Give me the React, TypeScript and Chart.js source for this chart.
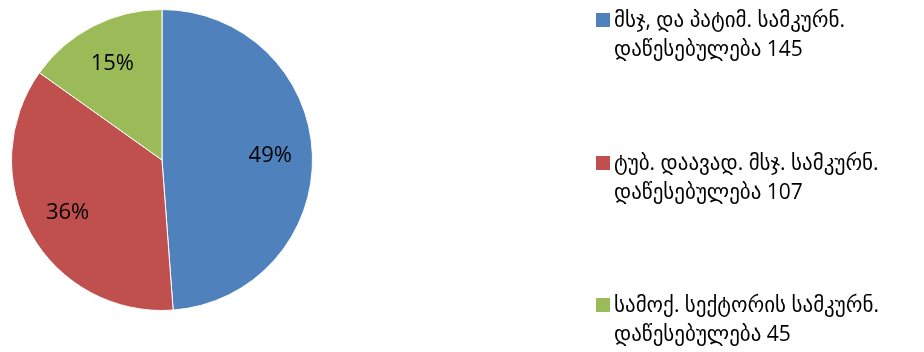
import React, { useEffect, useRef } from "react";
import { Chart, registerables } from "chart.js";

Chart.register(...registerables);

const categories: string[][] = [
  ["მსჯ, და პატიმ. სამკურნ.", "დაწესებულება 145"],
  ["ტუბ. დაავად. მსჯ. სამკურნ.", "დაწესებულება 107"],
  ["სამოქ. სექტორის სამკურნ.", "დაწესებულება 45"],
];
const values: number[] = [145, 107, 45];
const colors: string[] = ["#4F81BD", "#C0504D", "#9BBB59"];

const FONT = '"Open Sans", "DejaVu Sans", sans-serif';

const labelPlugin = {
  id: "customLabels",
  afterDatasetsDraw(chart: any) {
    const ctx = chart.ctx as CanvasRenderingContext2D;
    const meta = chart.getDatasetMeta(0);
    const data = chart.data.datasets[0].data as number[];
    const total = data.reduce((a, b) => a + b, 0);
    ctx.save();
    ctx.fillStyle = "#000";
    ctx.font = `22px ${FONT}`;
    ctx.textAlign = "center";
    ctx.textBaseline = "middle";
    meta.data.forEach((arc: any, i: number) => {
      const { x, y, startAngle, endAngle, outerRadius } = arc.getProps(
        ["x", "y", "startAngle", "endAngle", "outerRadius"],
        true
      );
      const mid = (startAngle + endAngle) / 2;
      const r = outerRadius * 0.72;
      const pct = Math.round((data[i] / total) * 100) + "%";
      ctx.fillText(pct, x + Math.cos(mid) * r, y + Math.sin(mid) * r);
    });
    // legend
    const lx = 596;
    const tops = [13, 156, 298];
    ctx.textAlign = "left";
    ctx.textBaseline = "middle";
    ctx.font = `21px ${FONT}`;
    categories.forEach((lines, i) => {
      const t = tops[i];
      ctx.fillStyle = colors[i];
      ctx.fillRect(lx, t, 14, 14);
      ctx.fillStyle = "#000";
      lines.forEach((ln, j) => {
        ctx.fillText(ln, lx + 18, t + 8 + j * 29);
      });
    });
    ctx.restore();
  },
};

export default function App() {
  const ref = useRef<HTMLCanvasElement>(null);
  useEffect(() => {
    document.body.style.margin = "0";
    const chart = new Chart(ref.current!, {
      type: "pie",
      data: {
        labels: categories.map((c) => c.join(" ")),
        datasets: [
          {
            data: values,
            backgroundColor: colors,
            borderColor: "#ffffff",
            borderWidth: 1,
          },
        ],
      },
      options: {
        animation: false,
        responsive: false,
        layout: { padding: { left: 11, top: 9, right: 611, bottom: 41 } },
        plugins: {
          legend: { display: false },
          tooltip: { enabled: false },
        },
      },
      plugins: [labelPlugin],
    });
    return () => chart.destroy();
  }, []);
  return (
    <div style={{ width: 924, height: 352 }}>
      <canvas ref={ref} width={924} height={352} style={{ display: "block" }} />
    </div>
  );
}
